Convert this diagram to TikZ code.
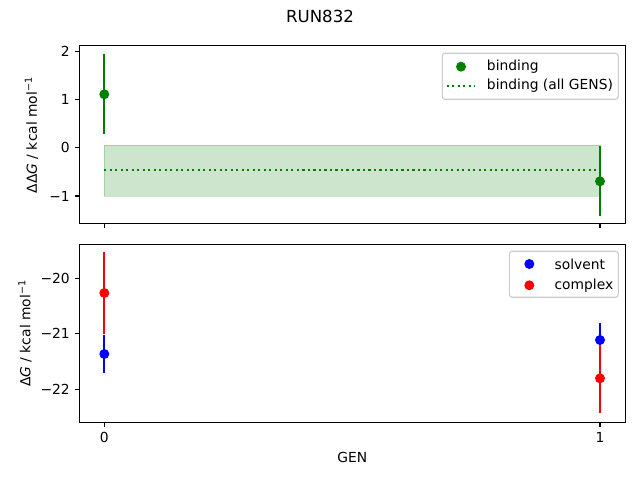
\documentclass[tikz,border=0pt]{standalone}
\usepackage{fontspec}
\setmainfont{DejaVu Sans}
\definecolor{mgreen}{RGB}{0,128,0}
\definecolor{mblue}{RGB}{0,0,255}
\definecolor{mred}{RGB}{255,0,0}
\definecolor{legedge}{RGB}{204,204,204}
\begin{document}
\begin{tikzpicture}[x=0.01in,y=-0.01in,
  axisbox/.style={draw=black,line width=0.8pt},
  tickmark/.style={draw=black,line width=0.8pt},
  ylab/.style={anchor=east,font=\fontsize{10}{12}\selectfont,inner sep=0pt},
  xlab/.style={anchor=center,font=\fontsize{10}{12}\selectfont,inner sep=0pt},
  ebar/.style={line width=1.5pt},
  dot/.style={circle,inner sep=0pt,minimum size=7.2pt},
  legbox/.style={draw=legedge,fill=white,fill opacity=0.8,rounded corners=2pt,line width=0.8pt},
  legtext/.style={anchor=west,font=\fontsize{10}{12}\selectfont,inner sep=0pt},
]
\useasboundingbox (0,0) rectangle (640,480);
\fill[white] (0,0) rectangle (640,480);

% title
\node[font=\fontsize{12}{14}\selectfont] (title) at (320,16.5) {RUN832};

% ================= top panel =================
\fill[mgreen,opacity=0.2] (104.3,145.3) rectangle (600,196.5);
\draw[mgreen,opacity=0.2,line width=1pt] (104.3,145.3) rectangle (600,196.5);
\draw[mgreen,line width=1.5pt,dash pattern=on 1.5pt off 2.475pt] (104.3,169.8) -- (600,169.8);

\draw[ebar,mgreen] (104.3,54.3) -- (104.3,133.7);
\draw[ebar,mgreen] (600,146) -- (600,215.7);
\node[dot,fill=mgreen] (t0) at (104.3,94.3) {};
\node[dot,fill=mgreen] (t1) at (600,181.3) {};

\draw[axisbox] (79.5,45.5) rectangle (625.5,223.5);
\foreach \yy/\lab in {51.3/2,99.6/1,147.8/0,196/−1}{
  \draw[tickmark] (79.5,\yy) -- (74.6,\yy);
  \node[ylab] at (70,\yy) {\lab};
}
\foreach \xx in {104.3,600}{
  \draw[tickmark] (\xx,223.5) -- (\xx,228.4);
}
\node[rotate=90,font=\fontsize{10}{12}\selectfont] (ylt) at (31.5,135) {ΔΔ{\itshape G} / kcal mol\textsuperscript{−1}};

% legend top
\draw[legbox] (442.3,53.3) rectangle (618.3,99.3);
\node[dot,fill=mgreen] (lg1) at (461,66.7) {};
\draw[mgreen,line width=1.5pt,dash pattern=on 1.5pt off 2.475pt] (446.7,85.7) -- (475,85.7);
\node[legtext] (lt1) at (486.7,66.7) {binding};
\node[legtext] (lt2) at (486.7,85.7) {binding (all GENS)};

% ================= bottom panel =================
\draw[ebar,mblue] (104.3,335.1) -- (104.3,372.9);
\draw[ebar,mblue] (600,323.3) -- (600,356.7);
\draw[ebar,mred] (104.3,252) -- (104.3,334);
\draw[ebar,mred] (600,343.3) -- (600,413.3);
\node[dot,fill=mblue] (b0) at (104.3,354) {};
\node[dot,fill=mblue] (b1) at (600,340) {};
\node[dot,fill=mred] (r0) at (104.3,293) {};
\node[dot,fill=mred] (r1) at (600,378.3) {};

\draw[axisbox] (79.5,244.5) rectangle (625.5,422.5);
\foreach \yy/\lab in {278.3/−20,333.8/−21,389.3/−22}{
  \draw[tickmark] (79.5,\yy) -- (74.6,\yy);
  \node[ylab] at (70,\yy) {\lab};
}
\foreach \xx/\lab in {104.3/0,600/1}{
  \draw[tickmark] (\xx,422.5) -- (\xx,427.4);
  \node[xlab] at (\xx,437.3) {\lab};
}
\node[rotate=90,font=\fontsize{10}{12}\selectfont] (ylb) at (25,333.3) {Δ{\itshape G} / kcal mol\textsuperscript{−1}};
\node[font=\fontsize{10}{12}\selectfont] (xl) at (352.4,457) {GEN};

% legend bottom
\draw[legbox] (509.3,251.3) rectangle (618.3,297.3);
\node[dot,fill=mblue] (lb1) at (529.3,264) {};
\node[dot,fill=mred] (lb2) at (529.3,285.3) {};
\node[legtext] (lbt1) at (554.3,264) {solvent};
\node[legtext] (lbt2) at (554.3,285.3) {complex};
\end{tikzpicture}
\end{document}
